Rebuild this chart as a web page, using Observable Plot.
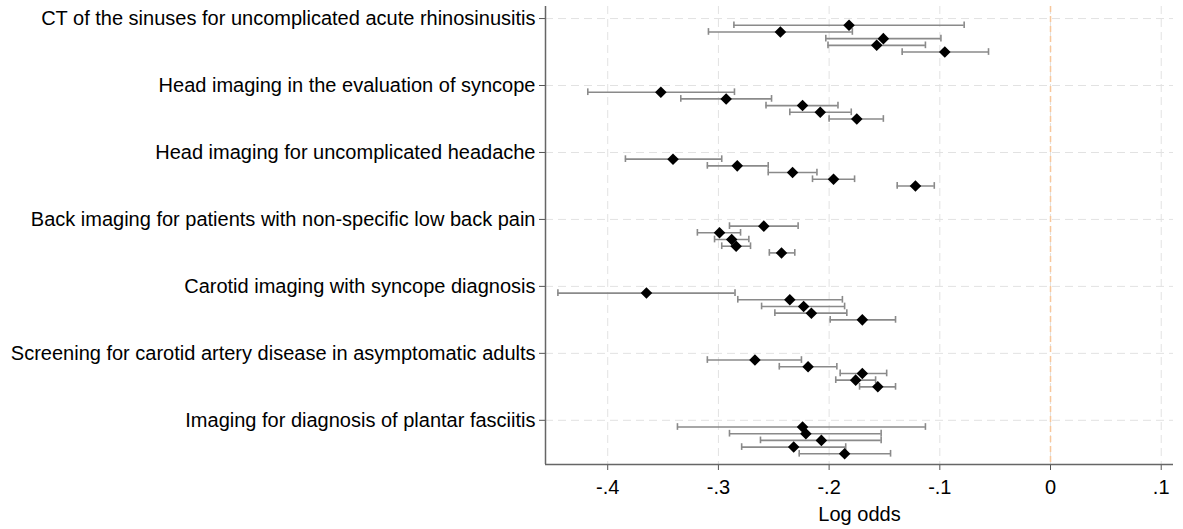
<!DOCTYPE html>
<html>
<head>
<meta charset="utf-8">
<script src="https://cdn.jsdelivr.net/npm/d3@7"></script>
<script src="https://cdn.jsdelivr.net/npm/@observablehq/plot@0.6"></script>
<style>
  html, body { margin: 0; padding: 0; background: #fff; }
  #chart svg { display: block; }
</style>
</head>
<body>
<div id="chart"></div>
<script>
const categories = [
  "CT of the sinuses for uncomplicated acute rhinosinusitis",
  "Head imaging in the evaluation of syncope",
  "Head imaging for uncomplicated headache",
  "Back imaging for patients with non-specific low back pain",
  "Carotid imaging with syncope diagnosis",
  "Screening for carotid artery disease in asymptomatic adults",
  "Imaging for diagnosis of plantar fasciitis"
];
// five estimates per category, in drawing order (top to bottom)
const estimates = [
  [-0.182, -0.244, -0.151, -0.157, -0.0955],
  [-0.352, -0.293, -0.224, -0.208, -0.175],
  [-0.341, -0.283, -0.233, -0.196, -0.122],
  [-0.259, -0.299, -0.288, -0.284, -0.243],
  [-0.365, -0.2355, -0.223, -0.216, -0.170],
  [-0.267, -0.219, -0.170, -0.176, -0.156],
  [-0.224, -0.221, -0.207, -0.232, -0.186]
];
const lowerCI = [
  [-0.286, -0.309, -0.203, -0.201, -0.134],
  [-0.418, -0.334, -0.257, -0.2355, -0.200],
  [-0.384, -0.310, -0.255, -0.215, -0.1385],
  [-0.290, -0.319, -0.3035, -0.297, -0.254],
  [-0.445, -0.2825, -0.261, -0.249, -0.199],
  [-0.310, -0.245, -0.190, -0.194, -0.1725],
  [-0.337, -0.290, -0.262, -0.279, -0.227]
];
const upperCI = [
  [-0.078, -0.179, -0.099, -0.113, -0.056],
  [-0.2855, -0.252, -0.192, -0.180, -0.151],
  [-0.297, -0.255, -0.211, -0.177, -0.105],
  [-0.228, -0.280, -0.2725, -0.271, -0.231],
  [-0.285, -0.188, -0.186, -0.184, -0.140],
  [-0.225, -0.193, -0.148, -0.158, -0.140],
  [-0.113, -0.153, -0.153, -0.185, -0.1445]
];
const xTicks = [-0.4, -0.3, -0.2, -0.1, 0, 0.1];
const xLabel = "Log odds";

const rows = [];
categories.forEach((c, i) => {
  estimates[i].forEach((e, k) => {
    rows.push({cat: i + 1, pos: i + 1 + 0.1 * (k + 1), est: e, lo: lowerCI[i][k], hi: upperCI[i][k]});
  });
});
const catIdx = categories.map((c, i) => i + 1);
const fmt = d => d === 0 ? "0" : (d < 0 ? "-" : "") + Math.abs(d).toFixed(1).replace(/^0/, "");

const xDom = [-0.4562, 0.1111];
const yDom = [0.82, 7.66];
const capH = 0.05;

const chart = Plot.plot({
  width: 1183,
  height: 529,
  marginLeft: 545,
  marginRight: 10,
  marginTop: 6,
  marginBottom: 65,
  style: {fontFamily: "'Liberation Sans', Arial, sans-serif", fontSize: "20px", color: "#000", background: "#fff"},
  x: {domain: xDom, ticks: xTicks},
  y: {domain: yDom, reverse: true},
  marks: [
    Plot.gridX(xTicks, {stroke: "#e2e2e2", strokeOpacity: 1, strokeDasharray: "8,5", strokeWidth: 1}),
    Plot.gridY(catIdx, {stroke: "#e2e2e2", strokeOpacity: 1, strokeDasharray: "8,5", strokeWidth: 1}),
    Plot.ruleX([0], {stroke: "#f7c79c", strokeDasharray: "6,4", strokeWidth: 1.5}),
    Plot.ruleY(rows, {y: "pos", x1: "lo", x2: "hi", stroke: "#8a8a8a", strokeWidth: 1.6}),
    Plot.ruleX(rows, {x: "lo", y1: d => d.pos - capH, y2: d => d.pos + capH, stroke: "#8a8a8a", strokeWidth: 1.6}),
    Plot.ruleX(rows, {x: "hi", y1: d => d.pos - capH, y2: d => d.pos + capH, stroke: "#8a8a8a", strokeWidth: 1.6}),
    Plot.dot(rows, {x: "est", y: "pos", symbol: "diamond2", r: 5.2, fill: "#000", stroke: "none"}),
    Plot.axisX({ticks: xTicks, tickFormat: fmt, tickSize: 6, tickPadding: 9, stroke: "#555", label: xLabel, labelAnchor: "center", labelOffset: 56, labelArrow: "none", fill: "#000"}),
    Plot.axisY({ticks: catIdx, tickFormat: d => categories[d - 1], tickSize: 6, tickPadding: 4, stroke: "#555", label: null, fill: "#000"}),
    Plot.ruleX([xDom[0]], {stroke: "#666", strokeWidth: 1.5}),
    Plot.ruleY([yDom[1]], {stroke: "#666", strokeWidth: 1.5})
  ]
});
document.getElementById("chart").appendChild(chart);
</script>
</body>
</html>
